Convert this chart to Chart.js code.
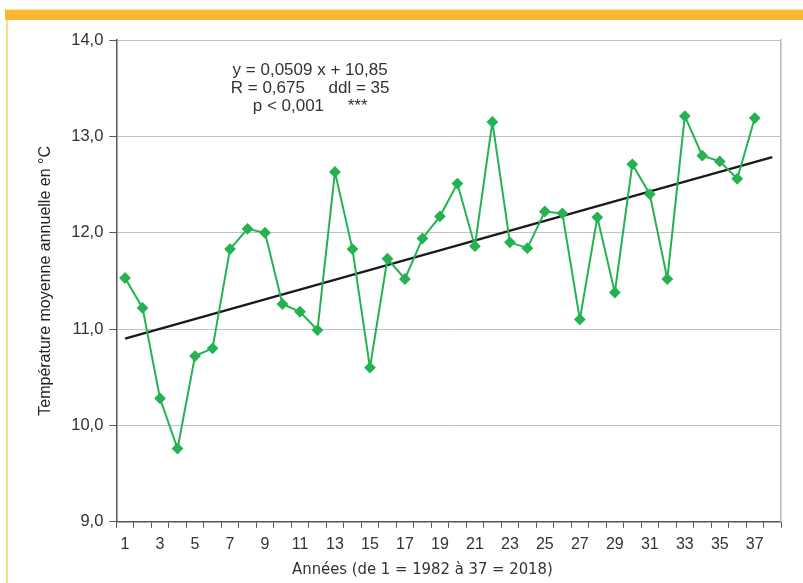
<!DOCTYPE html>
<html lang="fr">
<head>
<meta charset="utf-8">
<title>Température moyenne annuelle</title>
<script src="https://cdn.jsdelivr.net/npm/chart.js@4.4.1/dist/chart.umd.min.js"></script>
<style>
  html, body { margin: 0; padding: 0; background: #ffffff; }
  #frame { position: relative; width: 803px; height: 583px; overflow: hidden; }
  .band { position: absolute; left: 5px; top: 9px; width: 798px; height: 11px; background: #fbb634; border-top: 1px solid #fde3a6; box-sizing: border-box; }
  .edge { position: absolute; left: 6px; top: 20px; width: 2px; height: 563px; background: #fdd98c; }
  canvas { position: absolute; left: 0; top: 0; }
</style>
</head>
<body>
<div id="frame">
  <div class="band"></div>
  <div class="edge"></div>
  <canvas id="chart" width="803" height="583"></canvas>
</div>
<script>
// Years numbered 1 (1982) to 37 (2018); slot 38 only carries the end of the trend line
const years = Array.from({ length: 38 }, (_, i) => String(i + 1));

// Mean annual temperature, °C
const temperatures = [
  11.53, 11.22, 10.28, 9.76, 10.72, 10.80, 11.83, 12.04, 12.00, 11.26,
  11.18, 10.99, 12.63, 11.83, 10.60, 11.73, 11.52, 11.94, 12.17, 12.51,
  11.86, 13.15, 11.90, 11.84, 12.22, 12.20, 11.10, 12.16, 11.38, 12.71,
  12.40, 11.52, 13.21, 12.80, 12.74, 12.56, 13.19
];

// Linear regression y = a x + b
const slope = 0.0509;
const intercept = 10.85;
const trendStart = 1;
const trendEnd = 38;

const yTicks = [9, 10, 11, 12, 13, 14];

const statsLines = [
  'y = 0,0509 x + 10,85',
  'R = 0,675     ddl = 35',
  'p < 0,001     ***'
];

const xTitle = 'Années (de 1 = 1982 à 37 = 2018)';

const green = '#25b252';
const axisDark = '#555555';
const gridGrey = '#c2c2c2';
const narrowFont = "'Liberation Sans Narrow', 'DejaVu Sans Condensed', sans-serif";
const sansFont = "'Liberation Sans', Arial, sans-serif";

const trendPoints = [trendStart, trendEnd].map(x => ({ x: String(x), y: slope * x + intercept }));

// Regression statistics inside the plot area, and the year axis caption under it
const annotations = {
  id: 'annotations',
  afterDatasetsDraw(chart) {
    const { ctx, scales } = chart;
    const cx = scales.x.getPixelForValue(10.58);
    const top = scales.y.getPixelForValue(13.69);
    ctx.save();
    ctx.fillStyle = '#333333';
    ctx.font = '17px ' + sansFont;
    ctx.textAlign = 'center';
    ctx.textBaseline = 'middle';
    statsLines.forEach((line, i) => ctx.fillText(line, cx, top + i * 18));

    ctx.font = '16.5px ' + narrowFont;
    ctx.fillText(xTitle, scales.x.getPixelForValue(17), scales.x.bottom + 9);
    ctx.restore();
  }
};

new Chart(document.getElementById('chart'), {
  type: 'line',
  data: {
    labels: years,
    datasets: [
      {
        label: 'Température',
        data: temperatures,
        borderColor: green,
        backgroundColor: green,
        borderWidth: 2,
        pointStyle: 'rectRot',
        pointRadius: 4.5,
        pointHoverRadius: 4.5,
        tension: 0,
        order: 1
      },
      {
        label: 'Tendance',
        data: trendPoints,
        borderColor: '#1a1a1a',
        borderWidth: 2.5,
        pointRadius: 0,
        tension: 0,
        order: 2
      }
    ]
  },
  options: {
    responsive: false,
    animation: false,
    layout: { padding: { left: 36, top: 40, right: 14, bottom: 22 } },
    plugins: {
      legend: { display: false },
      tooltip: { enabled: false }
    },
    scales: {
      x: {
        type: 'category',
        offset: true,
        grid: {
          offset: true,
          drawOnChartArea: false,
          drawTicks: true,
          tickLength: 6,
          tickColor: axisDark
        },
        border: { color: axisDark, width: 1.5 },
        ticks: {
          autoSkip: false,
          maxRotation: 0,
          padding: 7,
          color: '#333333',
          font: { family: sansFont, size: 16 },
          callback: (v, i) => (i % 2 === 0 && i < 37 ? years[i] : '')
        }
      },
      y: {
        min: 9,
        max: 14,
        afterBuildTicks: scale => { scale.ticks = yTicks.map(v => ({ value: v })); },
        grid: {
          color: gridGrey,
          lineWidth: 1,
          drawTicks: true,
          tickLength: 7,
          tickColor: axisDark
        },
        border: { color: axisDark, width: 1.5 },
        ticks: {
          padding: 6,
          color: '#333333',
          font: { family: sansFont, size: 16.5 },
          callback: v => v.toFixed(1).replace('.', ',')
        },
        title: {
          display: true,
          text: 'Température moyenne annuelle en °C',
          color: '#222222',
          font: { family: sansFont, size: 16 },
          padding: { top: 0, bottom: 10 }
        }
      },
      yRight: {
        position: 'right',
        min: 9,
        max: 14,
        grid: { display: false },
        ticks: { display: false },
        border: { color: '#b8b8b8', width: 1.5 }
      }
    }
  },
  plugins: [annotations]
});
</script>
</body>
</html>
